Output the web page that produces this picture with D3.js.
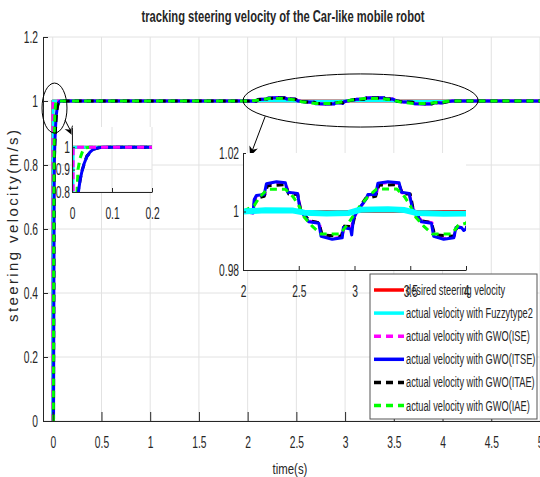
<!DOCTYPE html>
<html><head><meta charset="utf-8">
<script src="https://cdn.jsdelivr.net/npm/d3@7"></script>
<style>body{margin:0;background:#fff}svg{display:block}text{font-family:"Liberation Sans",Arial,sans-serif;fill:#262626}</style>
</head><body>
<svg id="c" width="540" height="477"></svg>
<script>
// ---------- data ----------
const seriesNames = ["desired steering velocity","actual velocity with Fuzzytype2","actual velocity with GWO(ISE)","actual velocity with GWO(ITSE)","actual velocity with GWO(ITAE)","actual velocity with GWO(IAE)"];
const seriesColors = ["#ff0000","#00ffff","#ff00ff","#0000ff","#000000","#00ff00"];
const seriesDashed = [false,false,true,false,true,true];
const xTicks = [0,0.5,1,1.5,2,2.5,3,3.5,4,4.5,5];
const yTicks = [0,0.2,0.4,0.6,0.8,1,1.2];
const inset1XTicks = [0,0.1,0.2];
const inset1YTicks = [0.8,0.9,1];
const inset2XTicks = [2,2.5,3,3.5,4];
const inset2YTicks = [0.98,1,1.02];

const desired = [[0,0],[0,1],[5,1]];
const fuzzy = [[0,0],[0.001,0.5],[0.003,1],[2.0,1.0],[2.2,1.0004],[2.45,1.0003],[2.55,0.9996],[2.75,0.9993],[2.95,0.9995],[3.05,1.0006],[3.3,1.0008],[3.45,1.0005],[3.55,0.9995],[3.8,0.9992],[4.0,0.9993],[4.1,1.0],[5,1]];
const gwoISE = [[0,0],[0.002,0.5],[0.003,1],[2.0,1],[2.095,0.9998],[2.105,1.0042],[2.125,1.0055],[2.195,1.0056],[2.215,1.0093],[2.3,1.0099],[2.385,1.0096],[2.405,1.0064],[2.49,1.0061],[2.515,1.001],[2.555,0.9985],[2.595,0.9967],[2.685,0.9962],[2.705,0.9917],[2.8,0.9908],[2.89,0.9912],[2.905,0.9946],[2.97,0.9942],[2.995,0.9978],[3.025,1.0],[3.105,1.0042],[3.125,1.0057],[3.195,1.0057],[3.215,1.0095],[3.3,1.0099],[3.4,1.0096],[3.425,1.0064],[3.49,1.0061],[3.525,1.001],[3.565,0.9985],[3.605,0.9967],[3.695,0.9962],[3.715,0.9917],[3.8,0.9908],[3.89,0.9912],[3.915,0.9946],[4.0,0.9942],[4.05,0.9982],[4.1,1],[5,1]];
const gwoITSE = [[0,0],[0.008,0],[0.012,0.45],[0.016,0.8],[0.02,0.85],[0.024,0.885],[0.03,0.925],[0.037,0.957],[0.045,0.978],[0.053,0.99],[0.065,0.997],[0.08,1],[2.0,1],[2.09,0.9995],[2.1,1.004],[2.12,1.0055],[2.19,1.0058],[2.21,1.0095],[2.3,1.0102],[2.38,1.0098],[2.4,1.0066],[2.49,1.0062],[2.51,1.001],[2.55,0.9985],[2.59,0.9965],[2.68,0.996],[2.7,0.9915],[2.8,0.9905],[2.89,0.991],[2.9,0.9945],[2.965,0.994],[2.975,0.992],[2.99,0.9975],[3.02,1.0],[3.1,1.004],[3.12,1.0058],[3.19,1.0058],[3.21,1.0097],[3.3,1.0102],[3.4,1.0098],[3.42,1.0066],[3.49,1.0062],[3.52,1.001],[3.56,0.9985],[3.6,0.9965],[3.69,0.996],[3.71,0.9915],[3.8,0.9905],[3.89,0.991],[3.91,0.9945],[3.96,0.9945],[3.98,0.9935],[4.0,0.994],[4.05,0.998],[4.1,1],[5,1]];
const gwoITAE = [[0,0],[0.008,0],[0.012,0.5],[0.016,0.81],[0.024,0.89],[0.037,0.96],[0.053,0.99],[0.07,0.998],[0.09,1],[2.0,1],[2.09,1.0],[2.11,1.0045],[2.19,1.0052],[2.22,1.0088],[2.38,1.0092],[2.41,1.006],[2.49,1.0058],[2.52,1.0],[2.6,0.9968],[2.68,0.9962],[2.71,0.992],[2.88,0.9915],[2.91,0.995],[2.98,0.9948],[3.01,0.9995],[3.1,1.0045],[3.19,1.0052],[3.22,1.009],[3.4,1.0092],[3.43,1.006],[3.5,1.006],[3.53,1.0],[3.6,0.9968],[3.69,0.9962],[3.72,0.992],[3.89,0.9915],[3.92,0.9948],[4.0,0.9942],[4.06,0.9985],[4.1,1.0],[5,1]];
const gwoIAE = [[0,0],[0.006,0],[0.01,0.6],[0.013,0.82],[0.015,0.9],[0.02,0.95],[0.0275,0.987],[0.035,0.997],[0.045,1],[2.0,1],[2.1,1.002],[2.15,1.005],[2.22,1.0076],[2.38,1.0076],[2.45,1.005],[2.5,1.002],[2.55,0.998],[2.62,0.995],[2.7,0.9923],[2.87,0.9923],[2.93,0.9952],[2.98,0.998],[3.05,1.002],[3.12,1.005],[3.2,1.0077],[3.38,1.0077],[3.45,1.005],[3.5,1.002],[3.55,0.998],[3.62,0.995],[3.7,0.9923],[3.87,0.9923],[3.93,0.9952],[4.0,0.996],[4.05,0.999],[4.1,1],[5,1]];
const allSeries = [desired,fuzzy,gwoISE,gwoITSE,gwoITAE,gwoIAE];

// ---------- setup ----------
const svg = d3.select("#c");
const AX = "#262626", GRID = "#e2e2e2";
const TICKFS = 16, TICKF = 0.64, LEGF = 0.66;
const dashFor = i => seriesDashed[i] ? "7,5" : null;

function drawGrid(g, x, y, xt, yt){
  const [x0,x1]=x.range(), [y0,y1]=y.range();
  g.append("g").selectAll("line").data(xt).join("line")
    .attr("x1",d=>x(d)).attr("x2",d=>x(d)).attr("y1",y1).attr("y2",y0)
    .attr("stroke",GRID).attr("stroke-width",1);
  g.append("g").selectAll("line").data(yt).join("line")
    .attr("y1",d=>y(d)).attr("y2",d=>y(d)).attr("x1",x0).attr("x2",x1)
    .attr("stroke",GRID).attr("stroke-width",1);
}
function drawAxisLines(g, x, y, xt, yt, opt){
  const [x0,x1]=x.range(), [y0,y1]=y.range();
  const ax = g.append("g").attr("transform",`translate(0,${y0})`)
    .call(d3.axisBottom(x).tickValues(xt).tickFormat(d3.format("~g")).tickSizeInner(-opt.xtick).tickSizeOuter(0).tickPadding(15.6));
  const ay = g.append("g").attr("transform",`translate(${x0},0)`)
    .call(d3.axisLeft(y).tickValues(yt).tickFormat(d3.format("~g")).tickSizeInner(-opt.ytick).tickSizeOuter(0).tickPadding(opt.ypad));
  [ax,ay].forEach(a=>{
    a.select(".domain").attr("stroke",AX).attr("stroke-width",1);
    a.selectAll(".tick line").attr("stroke",AX);
    a.selectAll("text").attr("font-size",TICKFS).attr("font-family",null).attr("fill",AX)
      .attr("transform",`scale(${TICKF},1)`);
  });
  ay.selectAll("text").attr("x",-opt.ypad/TICKF);
}
function drawLines(g, x, y, order, widths, clipId){
  const line = d3.line().x(d=>x(d[0])).y(d=>y(d[1]));
  const lg = g.append("g").attr("clip-path",`url(#${clipId})`);
  order.forEach(i=>{
    lg.append("path").datum(allSeries[i]).attr("d",line).attr("fill","none")
      .attr("stroke",seriesColors[i]).attr("stroke-width",widths[i])
      .attr("stroke-dasharray",dashFor(i)).attr("stroke-linejoin","round");
  });
}
function clip(id,x,y){
  const [x0,x1]=x.range(), [y0,y1]=y.range();
  svg.append("clipPath").attr("id",id).append("rect").attr("x",x0).attr("y",y1).attr("width",x1-x0).attr("height",y0-y1);
}

// ---------- main axes ----------
const x = d3.scaleLinear().domain([-0.1,5]).range([43,540]);
const y = d3.scaleLinear().domain([0,1.2]).range([421,37]);
clip("cm",x,y);
const gm = svg.append("g");
drawGrid(gm,x,y,xTicks,yTicks);
drawLines(gm,x,y,[0,1,2,3,4,5],[3,3,3,3,3,3],"cm");
drawAxisLines(gm,x,y,xTicks,yTicks,{xtick:9,ytick:5,ypad:5});

// title & labels
svg.append("text").attr("x",283).attr("y",22).attr("text-anchor","middle")
  .attr("font-size",16).attr("font-weight","bold").attr("fill","#000")
  .attr("textLength",283).attr("lengthAdjust","spacingAndGlyphs")
  .text("tracking steering velocity of the Car-like mobile robot");
svg.append("text").attr("transform","translate(18,226) rotate(-90)").attr("text-anchor","middle")
  .attr("font-size",15).attr("fill","#262626").attr("textLength",192).attr("lengthAdjust","spacing")
  .text("steering velocity(m/s)");
svg.append("text").attr("transform","translate(290,474) scale(0.76,1)").attr("text-anchor","middle").attr("font-size",15)
  .attr("fill","#262626").text("time(s)");

// annotations (data coordinates)
const ellipses = [{t:0.018,v:0.978,rt:0.128,rv:0.078},{t:3.159,v:1.0016,rt:1.206,rv:0.083}];
const arrows = [{t0:0.127,v0:0.94,t1:0.21,v1:0.891},{t0:2.18,v0:0.952,t1:2.025,v1:0.827}];
const kx = x(1)-x(0), ky = y(0)-y(1);
svg.append("g").selectAll("ellipse").data(ellipses).join("ellipse")
  .attr("cx",d=>x(d.t)).attr("cy",d=>y(d.v)).attr("rx",d=>d.rt*kx).attr("ry",d=>d.rv*ky)
  .attr("fill","none").attr("stroke","#000").attr("stroke-width",1);
arrows.forEach(a=>{
  const X0=x(a.t0),Y0=y(a.v0),X1=x(a.t1),Y1=y(a.v1);
  const ang=Math.atan2(Y1-Y0,X1-X0), L=10, W=4.5, N=3;
  const ux=Math.cos(ang), uy=Math.sin(ang), px=-uy, py=ux;
  svg.append("line").attr("x1",X0).attr("y1",Y0).attr("x2",X1-ux*N).attr("y2",Y1-uy*N).attr("stroke","#000").attr("stroke-width",1);
  const pts=[[X1,Y1],[X1-ux*L+px*W,Y1-uy*L+py*W],[X1-ux*(L-N),Y1-uy*(L-N)],[X1-ux*L-px*W,Y1-uy*L-py*W]];
  svg.append("path").attr("d","M"+pts.map(p=>p.join(",")).join("L")+"Z").attr("fill","#000");
});

// ---------- inset 1 ----------
const x1s = d3.scaleLinear().domain([0,0.2]).range([72,152]);
const y1s = d3.scaleLinear().domain([0.8,1.09]).range([192,127]);
clip("c1",x1s,y1s);
const g1 = svg.append("g");
g1.append("rect").attr("x",72).attr("y",127).attr("width",80).attr("height",65).attr("fill","#fff");
drawGrid(g1,x1s,y1s,inset1XTicks,inset1YTicks);
drawLines(g1,x1s,y1s,[0,1,4,5,3,2],[3,3,3,3,3,3],"c1");
drawAxisLines(g1,x1s,y1s,inset1XTicks,inset1YTicks,{xtick:4,ytick:3,ypad:2});

// ---------- legend ----------
const lg = svg.append("g");
lg.append("rect").attr("x",370).attr("y",274).attr("width",167).attr("height",145).attr("fill","#fff").attr("stroke","#555").attr("stroke-width",1);
seriesNames.forEach((name,i)=>{
  const yy = 290 + i*23.1;
  lg.append("line").attr("x1",374).attr("x2",404).attr("y1",yy).attr("y2",yy)
    .attr("stroke",seriesColors[i]).attr("stroke-width",3.5).attr("stroke-dasharray",dashFor(i));
  lg.append("text").attr("transform",`translate(406,${yy+5}) scale(${LEGF},1)`).attr("font-size",14).attr("fill","#000").text(name);
});

// ---------- inset 2 ----------
const x2s = d3.scaleLinear().domain([2,4]).range([243,466]);
const y2s = d3.scaleLinear().domain([0.98,1.02]).range([270,153]);
clip("c2",x2s,y2s);
const g2 = svg.append("g");
g2.append("rect").attr("x",243).attr("y",153).attr("width",223).attr("height",117).attr("fill","#fff");
drawLines(g2,x2s,y2s,[0,2,4,3,5,1],[3,6,3,3,3,3],"c2");
drawAxisLines(g2,x2s,y2s,inset2XTicks,inset2YTicks,{xtick:4,ytick:3,ypad:4});
</script>
</body></html>
